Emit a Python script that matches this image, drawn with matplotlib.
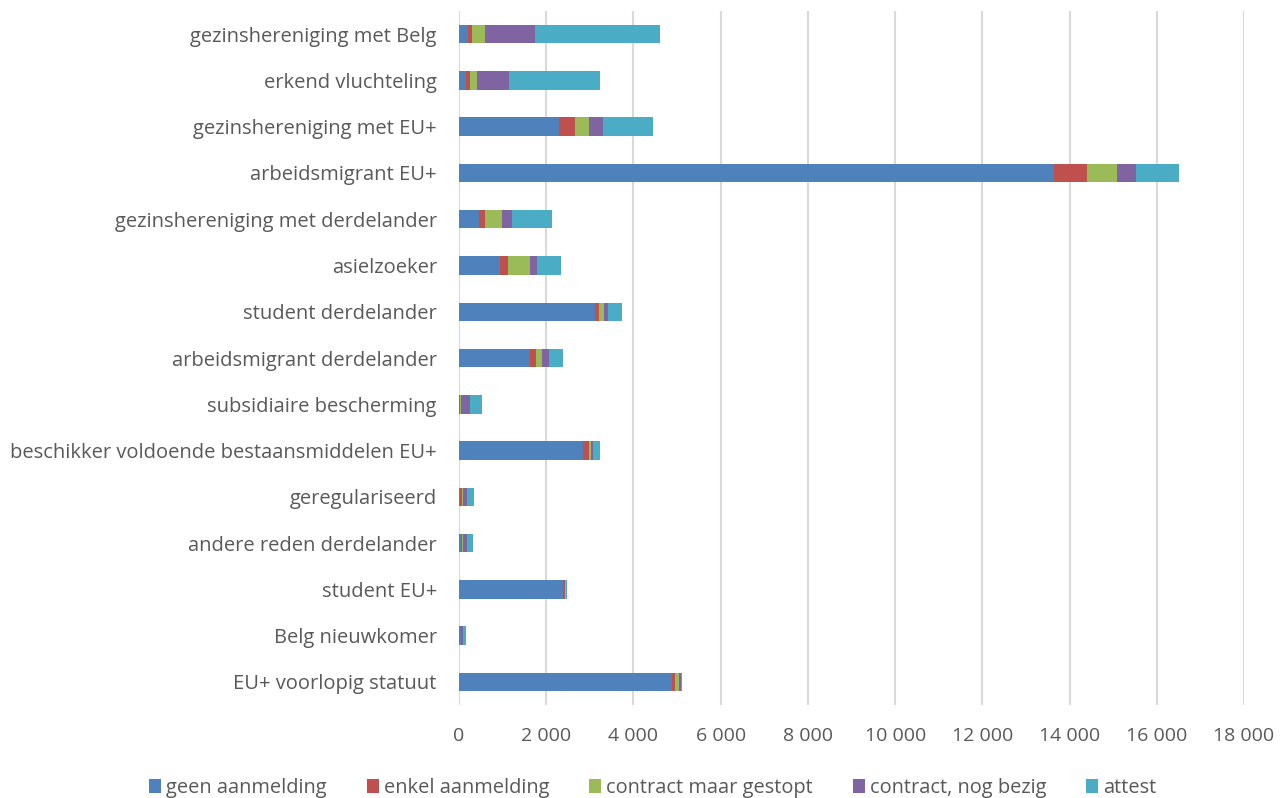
import matplotlib
matplotlib.use("Agg")
import matplotlib.pyplot as plt
import numpy as np
from matplotlib.ticker import FuncFormatter
from matplotlib.patches import Patch

categories = [
    "gezinshereniging met Belg",
    "erkend vluchteling",
    "gezinshereniging met EU+",
    "arbeidsmigrant EU+",
    "gezinshereniging met derdelander",
    "asielzoeker",
    "student derdelander",
    "arbeidsmigrant derdelander",
    "subsidiaire bescherming",
    "beschikker voldoende bestaansmiddelen EU+",
    "geregulariseerd",
    "andere reden derdelander",
    "student EU+",
    "Belg nieuwkomer",
    "EU+ voorlopig statuut",
]
geen_aanmelding = [205, 153, 2283, 13650, 466, 947, 3122, 1626, 10, 2840, 20, 53, 2389, 38, 4885]
enkel_aanmelding = [85, 91, 367, 740, 137, 175, 92, 145, 5, 137, 50, 23, 46, 23, 77]
contract_gestopt = [310, 161, 327, 700, 374, 504, 107, 137, 30, 46, 30, 23, 10, 15, 84]
contract_bezig = [1140, 740, 314, 430, 229, 168, 84, 145, 200, 46, 84, 84, 10, 16, 38]
attest = [2880, 2090, 1158, 990, 924, 534, 343, 336, 283, 167, 168, 145, 20, 61, 23]

series = [
    ("geen aanmelding", geen_aanmelding, "#4F81BD"),
    ("enkel aanmelding", enkel_aanmelding, "#C0504D"),
    ("contract maar gestopt", contract_gestopt, "#9BBB59"),
    ("contract, nog bezig", contract_bezig, "#8064A2"),
    ("attest", attest, "#4BACC6"),
]

plt.rcParams['font.family'] = ['Open Sans', 'DejaVu Sans']
txt = "#595959"

fig = plt.figure(figsize=(12.8, 7.98), dpi=100)
ax = fig.add_axes([0.3586, 0.1165, 0.6133, 0.8697])

y = np.arange(len(categories))
left = np.zeros(len(categories))
handles = []
for name, vals, col in series:
    v = np.array(vals, dtype=float)
    ax.barh(y, v, left=left, height=0.4, color=col, edgecolor='none', zorder=3)
    left += v
    handles.append(Patch(facecolor=col, edgecolor='none', label=name))

ax.set_xlim(0, 18000)
ax.set_ylim(len(categories) - 0.5, -0.5)
ax.set_yticks(y)
ax.set_yticklabels(categories, fontsize=14.5, color=txt)
ax.set_xticks(np.arange(0, 18001, 2000))
ax.xaxis.set_major_formatter(FuncFormatter(lambda v, p: f"{int(v):,}".replace(",", " ")))
ax.tick_params(axis='x', labelsize=14, labelcolor=txt, length=0, pad=16)
ax.tick_params(axis='y', length=0, pad=16)
ax.grid(axis='x', color='#d9d9d9', linewidth=1.5, zorder=0)
for s in ax.spines.values():
    s.set_visible(False)

fig.legend(handles=handles, loc='center', bbox_to_anchor=(0.51, 0.013), ncol=5,
           frameon=False, fontsize=14.4, labelcolor=txt, handlelength=0.6,
           handleheight=0.7, handletextpad=0.25, columnspacing=2.0)

fig.savefig("out.png", dpi=100)
